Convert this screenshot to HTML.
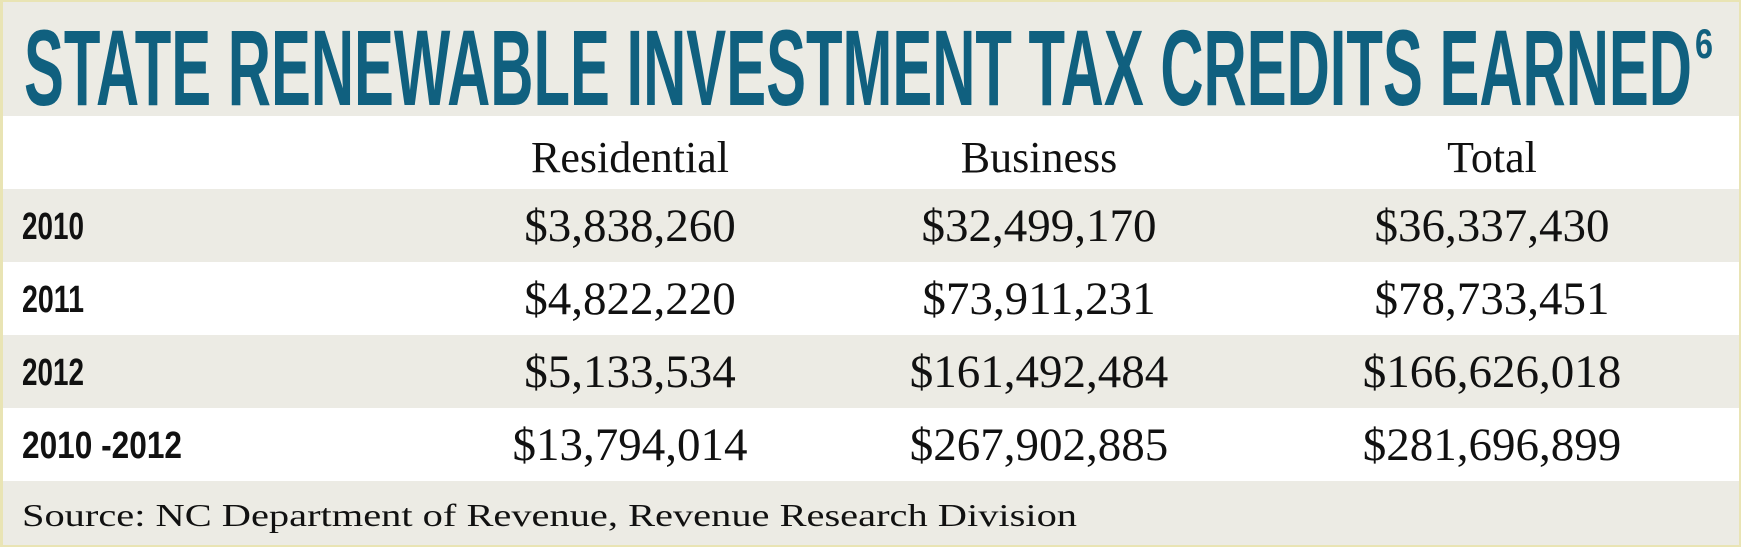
<!DOCTYPE html>
<html><head><meta charset="utf-8"><style>
html,body{margin:0;padding:0;background:#fff;}
svg{display:block;}
</style></head><body>
<svg id="chart" width="1741" height="547" viewBox="0 0 1741 547" xmlns="http://www.w3.org/2000/svg">
<rect x="0" y="0" width="1741" height="547" fill="#e9e4b4"/>
<rect x="3" y="2" width="1736" height="114" fill="#ecebe4"/>
<text x="24" y="105" font-family="Liberation Sans, sans-serif" font-weight="bold" font-size="108" fill="#10607f" textLength="1668" lengthAdjust="spacingAndGlyphs">STATE RENEWABLE INVESTMENT TAX CREDITS EARNED</text>
<text x="1695" y="58" font-family="Liberation Sans, sans-serif" font-weight="bold" font-size="42" fill="#10607f" textLength="18" lengthAdjust="spacingAndGlyphs">6</text>
<g id="body"></g>
</svg>
<script>
const columns = ["Residential", "Business", "Total"];
const rowLabels = ["2010", "2011", "2012", "2010 -2012"];
const residential = ["$3,838,260", "$4,822,220", "$5,133,534", "$13,794,014"];
const business = ["$32,499,170", "$73,911,231", "$161,492,484", "$267,902,885"];
const total = ["$36,337,430", "$78,733,451", "$166,626,018", "$281,696,899"];
const source = "Source: NC Department of Revenue, Revenue Research Division";

const NS = "http://www.w3.org/2000/svg";
const g = document.getElementById("body");
const colX = [630, 1039, 1492];
const headerTop = 116, headerH = 73, rowH = 73;
function mk(tag, attrs){const e=document.createElementNS(NS,tag);for(const k in attrs)e.setAttribute(k,attrs[k]);g.appendChild(e);return e;}

const hb = mk("rect",{x:3,y:headerTop,width:1736,height:headerH,fill:"#ffffff"});


columns.forEach((c,i)=>{
  const t = mk("text",{x:colX[i],y:172,"text-anchor":"middle","font-family":"Liberation Serif, serif","font-size":"44",fill:"#111"});
  t.textContent = c;
  
  
});
const series = [residential, business, total];
rowLabels.forEach((lab,r)=>{
  const y0 = headerTop + headerH + r*rowH;
  const bg = mk("rect",{x:3,y:y0,width:1736,height:rowH,fill:(r%2===0)?"#ecebe4":"#ffffff"});
  
  
  const lt = mk("text",{x:22,y:y0+50,"font-family":"Liberation Sans, sans-serif","font-weight":"bold","font-size":"38",fill:"#111",textLength:String(lab.length>4?160:62),lengthAdjust:"spacingAndGlyphs"});
  lt.textContent = lab;
  
  
  series.forEach((s,i)=>{
    const vt = mk("text",{x:colX[i],y:y0+52,"text-anchor":"middle","font-family":"Liberation Serif, serif","font-size":"47",fill:"#111"});
    vt.textContent = s[r];
    
    
  });
});
const sy = headerTop + headerH + rowLabels.length*rowH;
const sb = mk("rect",{x:3,y:sy,width:1736,height:547-sy-2,fill:"#ecebe4"});


const st = mk("text",{x:22,y:sy+45,"font-family":"Liberation Serif, serif","font-size":"32",fill:"#111",textLength:"1055",lengthAdjust:"spacingAndGlyphs"});
st.textContent = source;


</script>
</body></html>
